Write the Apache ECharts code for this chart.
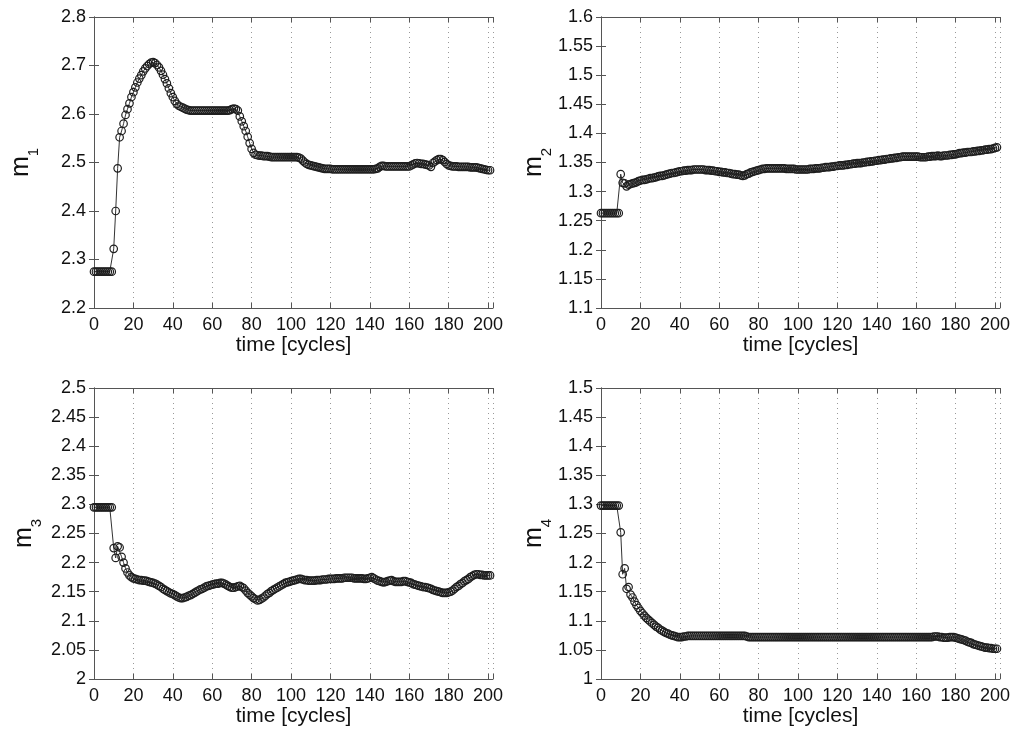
<!DOCTYPE html>
<html>
<head>
<meta charset="utf-8">
<script src="https://cdn.jsdelivr.net/npm/echarts@6/dist/echarts.min.js"></script>
<style>
html,body{margin:0;padding:0;background:#fff;}
#chart{width:1013px;height:731px;}
</style>
</head>
<body>
<div id="chart"></div>
<script>
// x tick labels (time in cycles); each series value is indexed by cycle number 0..201
const xTicks = [0, 20, 40, 60, 80, 100, 120, 140, 160, 180, 200];
const xTitle = 'time [cycles]';
const yNames = ['1', '2', '3', '4'];

const m1 = [
2.275,2.275,2.275,2.275,2.275,2.275,2.275,2.275,2.275,2.275,
2.322,2.400,2.488,2.552,2.565,2.580,2.598,2.610,2.622,2.635,
2.645,2.655,2.665,2.673,2.680,2.688,2.694,2.699,2.703,2.706,
2.707,2.705,2.701,2.696,2.689,2.681,2.672,2.663,2.653,2.643,
2.635,2.627,2.621,2.617,2.615,2.613,2.611,2.609,2.608,2.607,
2.607,2.607,2.607,2.607,2.607,2.607,2.607,2.607,2.607,2.607,
2.607,2.607,2.607,2.607,2.607,2.607,2.607,2.607,2.607,2.608,
2.610,2.611,2.610,2.607,2.595,2.585,2.575,2.565,2.553,2.540,
2.528,2.520,2.516,2.515,2.514,2.514,2.513,2.513,2.513,2.512,
2.511,2.511,2.511,2.511,2.511,2.511,2.511,2.511,2.511,2.511,
2.511,2.511,2.511,2.511,2.510,2.508,2.504,2.500,2.497,2.495,
2.494,2.493,2.492,2.491,2.490,2.489,2.488,2.487,2.487,2.487,
2.487,2.486,2.486,2.486,2.486,2.486,2.486,2.486,2.486,2.486,
2.486,2.486,2.486,2.486,2.486,2.486,2.486,2.486,2.486,2.486,
2.486,2.486,2.486,2.487,2.488,2.491,2.493,2.493,2.492,2.492,
2.492,2.492,2.492,2.492,2.492,2.492,2.492,2.492,2.492,2.492,
2.492,2.494,2.496,2.498,2.499,2.498,2.497,2.497,2.496,2.495,
2.494,2.491,2.499,2.502,2.505,2.507,2.507,2.505,2.501,2.497,
2.494,2.493,2.492,2.492,2.492,2.491,2.491,2.491,2.491,2.491,
2.491,2.490,2.490,2.490,2.490,2.489,2.488,2.487,2.486,2.485,
2.484,2.484
];

const m2 = [
1.263,1.263,1.263,1.263,1.263,1.263,1.263,1.263,1.263,1.263,
1.330,1.315,1.314,1.309,1.312,1.313,1.314,1.315,1.316,1.318,
1.319,1.320,1.320,1.321,1.322,1.323,1.323,1.324,1.325,1.326,
1.327,1.327,1.328,1.329,1.330,1.331,1.332,1.332,1.333,1.334,
1.335,1.335,1.336,1.336,1.337,1.337,1.337,1.338,1.338,1.338,
1.338,1.338,1.338,1.337,1.337,1.337,1.336,1.336,1.335,1.335,
1.334,1.334,1.333,1.333,1.332,1.332,1.331,1.330,1.330,1.329,
1.329,1.328,1.327,1.328,1.330,1.331,1.333,1.334,1.335,1.336,
1.337,1.338,1.339,1.339,1.340,1.340,1.340,1.340,1.340,1.340,
1.340,1.340,1.340,1.340,1.339,1.339,1.339,1.339,1.339,1.338,
1.338,1.338,1.338,1.338,1.338,1.338,1.339,1.339,1.339,1.340,
1.340,1.340,1.341,1.341,1.342,1.342,1.342,1.343,1.343,1.344,
1.344,1.345,1.345,1.345,1.346,1.346,1.347,1.347,1.348,1.348,
1.349,1.349,1.349,1.350,1.350,1.351,1.351,1.352,1.352,1.353,
1.353,1.354,1.354,1.355,1.355,1.356,1.356,1.357,1.357,1.358,
1.358,1.359,1.359,1.360,1.360,1.360,1.360,1.360,1.360,1.360,
1.360,1.360,1.359,1.359,1.359,1.359,1.360,1.360,1.361,1.361,
1.361,1.362,1.361,1.361,1.362,1.362,1.362,1.363,1.363,1.364,
1.364,1.365,1.366,1.366,1.367,1.367,1.368,1.368,1.368,1.369,
1.369,1.370,1.370,1.371,1.371,1.372,1.372,1.373,1.373,1.374,
1.375,1.376
];

const m3 = [
2.295,2.295,2.295,2.295,2.295,2.295,2.295,2.295,2.295,2.295,
2.225,2.208,2.228,2.226,2.210,2.200,2.190,2.183,2.178,2.175,
2.173,2.172,2.171,2.170,2.170,2.169,2.169,2.168,2.167,2.166,
2.165,2.164,2.162,2.160,2.158,2.155,2.153,2.151,2.149,2.147,
2.146,2.144,2.142,2.140,2.139,2.139,2.140,2.141,2.143,2.144,
2.146,2.148,2.150,2.152,2.154,2.155,2.157,2.159,2.160,2.161,
2.162,2.163,2.164,2.164,2.165,2.165,2.164,2.162,2.160,2.158,
2.157,2.157,2.158,2.159,2.160,2.158,2.156,2.152,2.148,2.145,
2.142,2.139,2.137,2.135,2.136,2.138,2.140,2.143,2.146,2.148,
2.151,2.153,2.155,2.157,2.159,2.161,2.163,2.165,2.166,2.167,
2.168,2.169,2.170,2.171,2.172,2.172,2.171,2.170,2.170,2.169,
2.169,2.169,2.169,2.170,2.170,2.170,2.171,2.171,2.171,2.172,
2.172,2.172,2.172,2.173,2.173,2.173,2.173,2.174,2.174,2.174,
2.174,2.174,2.173,2.173,2.173,2.173,2.173,2.172,2.172,2.173,
2.174,2.175,2.173,2.171,2.169,2.168,2.167,2.166,2.167,2.168,
2.169,2.170,2.168,2.167,2.167,2.167,2.167,2.168,2.168,2.167,
2.166,2.165,2.163,2.162,2.161,2.160,2.159,2.158,2.158,2.157,
2.156,2.155,2.153,2.152,2.151,2.150,2.149,2.148,2.148,2.148,
2.149,2.150,2.152,2.155,2.158,2.160,2.163,2.165,2.168,2.170,
2.172,2.175,2.177,2.179,2.180,2.180,2.179,2.179,2.178,2.178,
2.178,2.178
];

const m4 = [
1.298,1.298,1.298,1.298,1.298,1.298,1.298,1.298,1.298,1.298,
1.252,1.180,1.190,1.155,1.158,1.145,1.140,1.133,1.127,1.122,
1.117,1.113,1.109,1.105,1.102,1.099,1.096,1.093,1.090,1.088,
1.085,1.083,1.081,1.079,1.078,1.076,1.075,1.074,1.073,1.072,
1.072,1.072,1.073,1.073,1.074,1.074,1.074,1.074,1.074,1.074,
1.074,1.074,1.074,1.074,1.074,1.074,1.074,1.074,1.074,1.074,
1.074,1.074,1.074,1.074,1.074,1.074,1.074,1.074,1.074,1.074,
1.074,1.074,1.074,1.074,1.073,1.072,1.072,1.072,1.072,1.072,
1.072,1.072,1.072,1.072,1.072,1.072,1.072,1.072,1.072,1.072,
1.072,1.072,1.072,1.072,1.072,1.072,1.072,1.072,1.072,1.072,
1.072,1.072,1.072,1.072,1.072,1.072,1.072,1.072,1.072,1.072,
1.072,1.072,1.072,1.072,1.072,1.072,1.072,1.072,1.072,1.072,
1.072,1.072,1.072,1.072,1.072,1.072,1.072,1.072,1.072,1.072,
1.072,1.072,1.072,1.072,1.072,1.072,1.072,1.072,1.072,1.072,
1.072,1.072,1.072,1.072,1.072,1.072,1.072,1.072,1.072,1.072,
1.072,1.072,1.072,1.072,1.072,1.072,1.072,1.072,1.072,1.072,
1.072,1.072,1.072,1.072,1.072,1.072,1.072,1.072,1.072,1.073,
1.073,1.073,1.072,1.072,1.071,1.071,1.071,1.072,1.072,1.072,
1.071,1.070,1.069,1.068,1.067,1.066,1.064,1.063,1.062,1.060,
1.059,1.058,1.057,1.056,1.055,1.054,1.054,1.053,1.053,1.052,
1.052,1.052
];

const yRanges = [
  {min: 2.2, max: 2.8, interval: 0.1},
  {min: 1.1, max: 1.6, interval: 0.05},
  {min: 2.0, max: 2.5, interval: 0.05},
  {min: 1.0, max: 1.5, interval: 0.05}
];
const seriesList = [m1, m2, m3, m4];

const FONT = '"Liberation Sans", Arial, Helvetica, sans-serif';
const grids = [
  {left: 94, top: 17, width: 399, height: 291},
  {left: 601, top: 17, width: 399, height: 291},
  {left: 94, top: 388, width: 399, height: 291},
  {left: 601, top: 388, width: 399, height: 291}
];
const nameGaps = [53, 41, 50, 42];
const AX = '#555';
const xMax = 202.5;

const xAxes = [], yAxes = [], series = [];
grids.forEach((g, i) => {
  xAxes.push({
    gridIndex: i, type: 'value', position: 'bottom', min: 0, max: xMax, interval: 20,
    axisLine: {show: true, lineStyle: {color: AX, width: 1}},
    axisTick: {show: true, inside: true, length: 5, lineStyle: {color: AX}},
    axisLabel: {color: '#111', fontSize: 18, fontFamily: FONT, margin: 8,
      formatter: v => (xTicks.indexOf(Math.round(v)) >= 0 && Math.abs(v - Math.round(v)) < 1e-6) ? String(Math.round(v)) : ''},
    splitLine: {show: true, lineStyle: {color: '#999', type: [1, 4], width: 1}},
    name: xTitle, nameLocation: 'middle', nameGap: 25,
    nameTextStyle: {color: '#111', fontSize: 21, fontFamily: FONT}
  });
  xAxes.push({
    gridIndex: i, type: 'value', position: 'top', min: 0, max: xMax, interval: 20,
    axisLine: {show: true, lineStyle: {color: AX, width: 1}},
    axisTick: {show: true, inside: true, length: 5, lineStyle: {color: AX}},
    axisLabel: {show: false}, splitLine: {show: false}
  });
  const r = yRanges[i];
  yAxes.push({
    gridIndex: i, type: 'value', position: 'left', min: r.min, max: r.max, interval: r.interval,
    axisLine: {show: true, lineStyle: {color: AX, width: 1}},
    axisTick: {show: true, inside: true, length: 5, lineStyle: {color: AX}},
    axisLabel: {color: '#111', fontSize: 18, fontFamily: FONT, margin: 8,
      formatter: v => String(parseFloat(v.toFixed(3)))},
    splitLine: {show: false},
    name: '{m|m}{s|' + yNames[i] + '}', nameLocation: 'middle', nameGap: nameGaps[i], nameRotate: 90,
    nameTextStyle: {color: '#111', fontFamily: FONT,
      rich: {m: {fontSize: 25, fontFamily: FONT, color: '#111'},
             s: {fontSize: 15, fontFamily: FONT, color: '#111', padding: [24, 0, 0, 0]}}}
  });
  yAxes.push({
    gridIndex: i, type: 'value', position: 'right', min: r.min, max: r.max, interval: r.interval,
    axisLine: {show: true, lineStyle: {color: AX, width: 1}},
    axisTick: {show: true, inside: true, length: 5, lineStyle: {color: AX}},
    axisLabel: {show: false}, splitLine: {show: false}
  });
  series.push({
    type: 'line', xAxisIndex: 2 * i, yAxisIndex: 2 * i,
    data: seriesList[i].map((v, t) => [t, v]),
    symbol: 'circle', symbolSize: 7.5, showSymbol: true, showAllSymbol: true,
    itemStyle: {color: 'rgba(0,0,0,0)', borderColor: '#1e1e1e', borderWidth: 1.2},
    lineStyle: {color: '#333', width: 1},
    silent: true, animation: false, clip: false
  });
});

const chart = echarts.init(document.getElementById('chart'), null, {renderer: 'canvas'});
chart.setOption({
  backgroundColor: '#fff',
  animation: false,
  grid: grids.map(g => Object.assign({containLabel: false}, g)),
  xAxis: xAxes,
  yAxis: yAxes,
  series: series
});
</script>
</body>
</html>
